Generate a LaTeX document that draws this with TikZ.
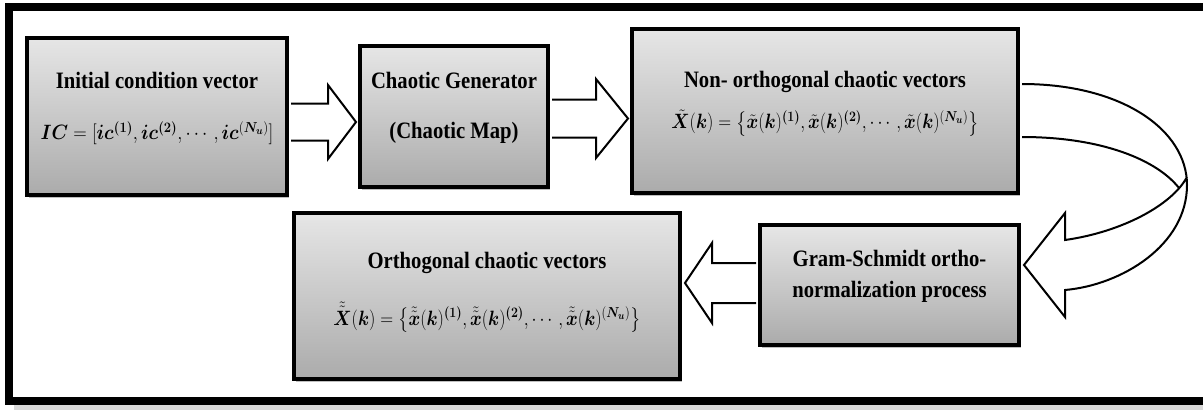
\documentclass[tikz,border=0pt]{standalone}
\usepackage{fontspec}
\usepackage{amsmath,bm,graphicx}
\setmainfont{Liberation Serif}
\newfontfamily\tfont{Liberation Serif}[FakeStretch=0.88]
\usetikzlibrary{calc,shadows}
\definecolor{gtop}{HTML}{E6E6E6}
\definecolor{gbot}{HTML}{ABABAB}
\begin{document}
\begin{tikzpicture}[x=1pt,y=-1pt,
  box/.style={draw=black, line width=4pt, rectangle, top color=gtop, bottom color=gbot, inner sep=0pt,
    drop shadow={shadow xshift=2pt, shadow yshift=-3pt, opacity=0.25, fill=black}},
  ttl/.style={font=\tfont\bfseries\fontsize{23.5}{27}\selectfont, inner sep=0pt},
  frm/.style={font=\fontsize{22.5}{26}\selectfont, inner sep=0pt},
  blk/.style={draw=black, line width=2pt, fill=white, line join=miter},
]
\useasboundingbox (0,0) rectangle (1203,410);
% outer frame with shadow
\fill[black!15] (14,405) rectangle (1203,410);
\draw[line width=8pt] (9,6.5) rectangle (1207,401);

% boxes
\node[box, minimum width=260pt, minimum height=157pt] (b1) at (157,116.5) {};
\node[box, minimum width=188pt, minimum height=141pt] (b2) at (454,116.5) {};
\node[box, minimum width=386pt, minimum height=164pt] (b3) at (825,111) {};
\node[box, minimum width=259pt, minimum height=120pt] (b4) at (889.5,285) {};
\node[box, minimum width=386pt, minimum height=166pt] (b5) at (487,296) {};

% texts
\node[ttl] (t1) at ($(b1.center)+(0,-36.5)$) {Initial condition vector};
\node[frm] (f1) at ($(b1.center)+(0,16.5)$) {\scalebox{0.9}[1]{$\bm{IC} = [\bm{ic}^{\bm{(1)}}, \bm{ic}^{\bm{(2)}}, \cdots, \bm{ic}^{(\bm{N_u})}]$}};
\node[ttl] (t2) at ($(b2.center)+(0,-36.5)$) {Chaotic Generator};
\node[ttl] (t2b) at ($(b2.center)+(0,16.5)$) {(Chaotic Map)};
\node[ttl] (t3) at ($(b3.center)+(0,-29)$) {Non- orthogonal chaotic vectors};
\node[frm] (f3) at ($(b3.center)+(0,12)$) {\scalebox{0.86}[1]{$\tilde{\bm X}(\bm k) = \big\{\tilde{\bm x}(\bm k)^{\bm{(1)}}, \tilde{\bm x}(\bm k)^{\bm{(2)}}, \cdots, \tilde{\bm x}(\bm k)^{(\bm{N_u})}\big\}$}};
\node[ttl] (t4) at ($(b4.center)+(0,-27)$) {Gram-Schmidt ortho-};
\node[ttl] (t4b) at ($(b4.center)+(0,7)$) {normalization process};
\node[ttl] (t5) at ($(b5.center)+(0,-33)$) {Orthogonal chaotic vectors};
\node[frm] (f5) at ($(b5.center)+(0,21)$) {\scalebox{0.86}[1]{$\tilde{\tilde{\bm X}}(\bm k) = \big\{\tilde{\tilde{\bm x}}(\bm k)^{\bm{(1)}}, \tilde{\tilde{\bm x}}(\bm k)^{\bm{(2)}}, \cdots, \tilde{\tilde{\bm x}}(\bm k)^{(\bm{N_u})}\big\}$}};

% block arrow b1 -> b2
\coordinate (a1t) at ($(b2.west)+(-2,5.5)$);
\draw[blk] ($(a1t -| b1.east)+(2,-18.5)$) -- ($(a1t)+(-28,-18.5)$) -- ($(a1t)+(-28,-37)$) -- (a1t)
  -- ($(a1t)+(-28,37)$) -- ($(a1t)+(-28,18.5)$) -- ($(a1t -| b1.east)+(2,18.5)$);
% block arrow b2 -> b3
\coordinate (a2t) at ($(b3.west)+(-2,7.5)$);
\draw[blk] ($(a2t -| b2.east)+(2,-19)$) -- ($(a2t)+(-32,-19)$) -- ($(a2t)+(-32,-39.5)$) -- (a2t)
  -- ($(a2t)+(-32,39.5)$) -- ($(a2t)+(-32,19)$) -- ($(a2t -| b2.east)+(2,19)$);
% block arrow b4 -> b5
\coordinate (a3t) at ($(b5.east)+(3,-13)$);
\draw[blk] ($(a3t -| b4.west)+(-2,-20)$) -- ($(a3t)+(27,-20)$) -- ($(a3t)+(27,-40)$) -- (a3t)
  -- ($(a3t)+(27,40)$) -- ($(a3t)+(27,20)$) -- ($(a3t -| b4.west)+(-2,20)$);

% curved block arrow b3 -> b4
\coordinate (cO) at ($(b3.east)+(2,-27)$);
\coordinate (cI) at ($(b3.east)+(2,26)$);
\coordinate (cT) at ($(b4.east)+(3,-20)$);
\draw[blk, fill=none] (cO) .. controls ($(cO)+(100,0)$) and ($(cO)+(165,46)$) .. ($(cO)+(165,101)$)
  .. controls ($(cO)+(165,161)$) and ($(cT)+(98,20)$) .. ($(cT)+(41,25)$)
  -- ($(cT)+(41,52)$) -- (cT) -- ($(cT)+(41,-52)$) -- ($(cT)+(41,-25)$)
  .. controls ($(cT)+(98,-33)$) and ($(cT)+(148,-60)$) .. ($(cT)+(163,-88)$);
\draw[blk, fill=none] (cI) .. controls ($(cI)+(80,0)$) and ($(cI)+(135,23)$) .. ($(cI)+(157,51)$);
\end{tikzpicture}
\end{document}
